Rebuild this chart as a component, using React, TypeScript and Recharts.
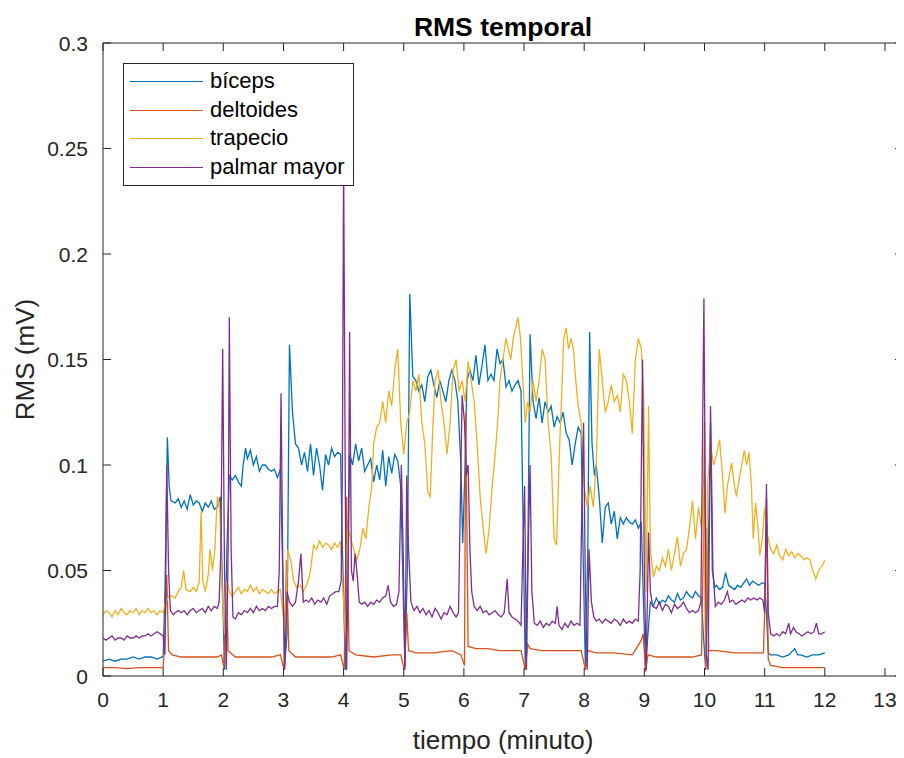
import React from "react";
import { LineChart, Line, XAxis, YAxis, Legend, Label } from "recharts";

const FONT = '"Liberation Sans", Arial, Helvetica, sans-serif';
const INK = "#262626";

const xTicks = [0, 1, 2, 3, 4, 5, 6, 7, 8, 9, 10, 11, 12, 13];
const yTicks = [0, 0.05, 0.1, 0.15, 0.2, 0.25, 0.3];
const yTickLabels = ["0", "0.05", "0.1", "0.15", "0.2", "0.25", "0.3"];

const seriesNames = ["bíceps", "deltoides", "trapecio", "palmar mayor"];
const seriesColors = ["#0072BD", "#D95319", "#EDB120", "#7E2F8E"];

const biceps: [number, number][] = [
  [0, 0.007], [0.1, 0.008], [0.2, 0.007], [0.3, 0.008], [0.4, 0.008], [0.5, 0.009], [0.6, 0.008], [0.7, 0.009], [0.8, 0.009], [0.9, 0.008], [0.98, 0.009], [1.0, 0.009],
  [1.03, 0.04], [1.07, 0.113], [1.1, 0.09], [1.13, 0.083], [1.2, 0.082], [1.25, 0.084], [1.3, 0.08], [1.35, 0.083], [1.4, 0.079], [1.45, 0.086], [1.5, 0.081], [1.55, 0.083], [1.6, 0.082], [1.65, 0.078], [1.7, 0.082], [1.75, 0.08], [1.8, 0.083], [1.85, 0.079], [1.9, 0.08], [1.95, 0.085],
  [1.98, 0.05], [2.02, 0.003], [2.06, 0.06], [2.1, 0.095], [2.15, 0.093], [2.2, 0.095], [2.25, 0.092], [2.3, 0.09], [2.33, 0.1], [2.37, 0.108], [2.4, 0.103], [2.45, 0.107], [2.5, 0.1], [2.55, 0.104], [2.6, 0.097], [2.65, 0.1], [2.7, 0.1], [2.75, 0.098], [2.8, 0.097], [2.85, 0.098], [2.9, 0.094], [2.95, 0.098],
  [2.98, 0.06], [3.02, 0.005], [3.06, 0.02], [3.1, 0.157], [3.15, 0.125], [3.2, 0.11], [3.25, 0.108], [3.3, 0.1], [3.35, 0.106], [3.4, 0.097], [3.45, 0.11], [3.5, 0.095], [3.55, 0.108], [3.6, 0.1], [3.65, 0.088], [3.7, 0.105], [3.75, 0.1], [3.8, 0.108], [3.85, 0.104], [3.9, 0.106], [3.95, 0.105],
  [3.98, 0.06], [4.03, 0.003], [4.07, 0.05], [4.1, 0.105], [4.15, 0.1], [4.2, 0.11], [4.25, 0.102], [4.3, 0.108], [4.35, 0.097], [4.4, 0.1], [4.45, 0.103], [4.5, 0.092], [4.55, 0.1], [4.6, 0.093], [4.65, 0.107], [4.7, 0.09], [4.75, 0.104], [4.8, 0.096], [4.85, 0.105], [4.9, 0.102], [4.95, 0.09],
  [4.99, 0.04], [5.02, 0.005], [5.06, 0.05], [5.1, 0.181], [5.15, 0.142], [5.2, 0.14], [5.25, 0.135], [5.3, 0.138], [5.35, 0.13], [5.4, 0.142], [5.45, 0.145], [5.5, 0.138], [5.55, 0.132], [5.6, 0.14], [5.65, 0.135], [5.7, 0.13], [5.75, 0.14], [5.8, 0.145], [5.85, 0.14], [5.9, 0.13], [5.95, 0.1],
  [5.98, 0.063], [6.02, 0.1], [6.05, 0.14], [6.1, 0.145], [6.15, 0.14], [6.2, 0.152], [6.25, 0.138], [6.3, 0.147], [6.35, 0.157], [6.4, 0.14], [6.45, 0.143], [6.5, 0.14], [6.55, 0.155], [6.6, 0.148], [6.65, 0.15], [6.7, 0.137], [6.75, 0.14], [6.8, 0.135], [6.85, 0.138], [6.9, 0.14], [6.95, 0.135],
  [6.98, 0.08], [7.02, 0.003], [7.06, 0.05], [7.1, 0.162], [7.15, 0.13], [7.2, 0.122], [7.25, 0.132], [7.3, 0.12], [7.35, 0.13], [7.4, 0.125], [7.45, 0.128], [7.5, 0.118], [7.55, 0.123], [7.6, 0.12], [7.65, 0.125], [7.7, 0.115], [7.75, 0.112], [7.8, 0.1], [7.85, 0.11], [7.9, 0.118], [7.95, 0.115],
  [7.98, 0.06], [8.02, 0.003], [8.06, 0.06], [8.09, 0.163], [8.13, 0.11], [8.17, 0.095], [8.2, 0.1], [8.25, 0.085], [8.3, 0.063], [8.35, 0.08], [8.4, 0.082], [8.45, 0.072], [8.5, 0.078], [8.55, 0.065], [8.6, 0.075], [8.65, 0.072], [8.7, 0.075], [8.75, 0.073], [8.8, 0.072], [8.85, 0.074], [8.9, 0.07], [8.95, 0.073],
  [8.98, 0.04], [9.02, 0.003], [9.06, 0.02], [9.1, 0.035], [9.15, 0.033], [9.2, 0.037], [9.25, 0.034], [9.3, 0.036], [9.35, 0.035], [9.4, 0.038], [9.45, 0.036], [9.5, 0.035], [9.55, 0.039], [9.6, 0.036], [9.65, 0.037], [9.7, 0.04], [9.75, 0.038], [9.8, 0.037], [9.85, 0.04], [9.9, 0.038], [9.95, 0.037],
  [9.98, 0.02], [10.02, 0.003], [10.06, 0.05], [10.1, 0.12], [10.13, 0.05], [10.17, 0.042], [10.2, 0.043], [10.25, 0.041], [10.3, 0.042], [10.35, 0.049], [10.4, 0.043], [10.45, 0.042], [10.5, 0.041], [10.55, 0.043], [10.6, 0.042], [10.65, 0.044], [10.7, 0.046], [10.75, 0.043], [10.8, 0.045], [10.85, 0.044], [10.9, 0.043], [10.95, 0.044], [11.0, 0.044],
  [11.03, 0.03], [11.06, 0.011], [11.1, 0.01], [11.2, 0.01], [11.3, 0.009], [11.4, 0.01], [11.5, 0.013], [11.55, 0.01], [11.6, 0.01], [11.7, 0.009], [11.8, 0.01], [11.9, 0.01], [12.0, 0.011],
];

const deltoides: [number, number][] = [
  [0, 0.004], [0.2, 0.004], [0.4, 0.0035], [0.6, 0.004], [0.8, 0.004], [1.0, 0.004], [1.03, 0.02], [1.06, 0.048], [1.09, 0.012], [1.15, 0.01], [1.3, 0.009], [1.5, 0.009], [1.7, 0.009], [1.9, 0.009],
  [1.97, 0.01], [2.01, 0.004], [2.05, 0.044], [2.08, 0.012], [2.2, 0.009], [2.5, 0.009], [2.8, 0.009], [2.95, 0.01],
  [3.01, 0.003], [3.05, 0.055], [3.09, 0.012], [3.2, 0.009], [3.5, 0.009], [3.8, 0.009], [3.95, 0.01],
  [4.01, 0.003], [4.05, 0.085], [4.09, 0.012], [4.2, 0.01], [4.5, 0.009], [4.8, 0.01], [4.95, 0.01],
  [5.01, 0.003], [5.05, 0.03], [5.08, 0.012], [5.2, 0.011], [5.5, 0.011], [5.8, 0.012], [5.95, 0.01],
  [6.01, 0.005], [6.03, 0.125], [6.07, 0.014], [6.2, 0.013], [6.4, 0.013], [6.6, 0.012], [6.8, 0.012], [6.95, 0.012],
  [7.02, 0.003], [7.06, 0.015], [7.1, 0.013], [7.3, 0.012], [7.5, 0.012], [7.8, 0.012], [7.95, 0.012],
  [8.02, 0.003], [8.06, 0.012], [8.2, 0.011], [8.5, 0.011], [8.8, 0.01], [8.95, 0.017], [8.98, 0.02],
  [9.02, 0.002], [9.06, 0.01], [9.2, 0.009], [9.5, 0.009], [9.8, 0.009], [9.95, 0.01], [9.98, 0.06], [10.0, 0.12],
  [10.02, 0.003], [10.04, 0.07], [10.07, 0.012], [10.2, 0.012], [10.5, 0.011], [10.8, 0.011], [10.98, 0.011],
  [11.01, 0.04], [11.03, 0.085], [11.06, 0.008], [11.1, 0.005], [11.3, 0.004], [11.5, 0.004], [11.8, 0.004], [12.0, 0.004],
];

const trapecio: [number, number][] = [
  [0, 0.029], [0.05, 0.031], [0.1, 0.03], [0.15, 0.028], [0.2, 0.031], [0.25, 0.029], [0.3, 0.032], [0.35, 0.03], [0.4, 0.029], [0.45, 0.031], [0.5, 0.03], [0.55, 0.032], [0.6, 0.029], [0.65, 0.031], [0.7, 0.03], [0.75, 0.032], [0.8, 0.03], [0.85, 0.031], [0.9, 0.029], [0.95, 0.031], [1.0, 0.03],
  [1.04, 0.035], [1.1, 0.038], [1.15, 0.038], [1.2, 0.037], [1.25, 0.04], [1.3, 0.042], [1.34, 0.05], [1.38, 0.041], [1.45, 0.04], [1.5, 0.042], [1.55, 0.04], [1.6, 0.045], [1.63, 0.078], [1.66, 0.045], [1.7, 0.04], [1.75, 0.048], [1.78, 0.06], [1.82, 0.05], [1.86, 0.06], [1.9, 0.085], [1.94, 0.08],
  [1.98, 0.04], [2.02, 0.02], [2.06, 0.045], [2.1, 0.04], [2.15, 0.038], [2.2, 0.04], [2.25, 0.042], [2.3, 0.039], [2.35, 0.041], [2.4, 0.04], [2.45, 0.043], [2.5, 0.04], [2.55, 0.042], [2.6, 0.039], [2.65, 0.041], [2.7, 0.04], [2.75, 0.039], [2.8, 0.041], [2.85, 0.039], [2.9, 0.04], [2.95, 0.041],
  [2.99, 0.03], [3.03, 0.02], [3.07, 0.06], [3.12, 0.055], [3.17, 0.045], [3.22, 0.042], [3.28, 0.043], [3.33, 0.04], [3.4, 0.044], [3.45, 0.05], [3.5, 0.062], [3.55, 0.06], [3.6, 0.064], [3.65, 0.061], [3.7, 0.063], [3.75, 0.062], [3.8, 0.06], [3.85, 0.063], [3.9, 0.061], [3.95, 0.064],
  [3.99, 0.04], [4.03, 0.02], [4.07, 0.07], [4.12, 0.065], [4.17, 0.06], [4.22, 0.055], [4.27, 0.06], [4.32, 0.07], [4.37, 0.065], [4.42, 0.08], [4.47, 0.09], [4.5, 0.11], [4.55, 0.118], [4.6, 0.12], [4.65, 0.13], [4.7, 0.12], [4.75, 0.135], [4.8, 0.128], [4.85, 0.145], [4.9, 0.155], [4.95, 0.12],
  [5.0, 0.105], [5.05, 0.12], [5.1, 0.125], [5.15, 0.14], [5.2, 0.135], [5.25, 0.143], [5.3, 0.12], [5.35, 0.11], [5.4, 0.087], [5.44, 0.085], [5.48, 0.115], [5.52, 0.14], [5.57, 0.145], [5.62, 0.13], [5.67, 0.12], [5.72, 0.105], [5.77, 0.12], [5.82, 0.145], [5.87, 0.15], [5.92, 0.135], [5.97, 0.14],
  [6.02, 0.13], [6.07, 0.149], [6.12, 0.14], [6.17, 0.13], [6.22, 0.11], [6.27, 0.085], [6.32, 0.07], [6.37, 0.058], [6.42, 0.07], [6.47, 0.09], [6.52, 0.105], [6.56, 0.12], [6.6, 0.14], [6.65, 0.15], [6.7, 0.16], [6.74, 0.155], [6.78, 0.15], [6.82, 0.16], [6.86, 0.165], [6.9, 0.17], [6.94, 0.16], [6.98, 0.14],
  [7.02, 0.12], [7.06, 0.13], [7.1, 0.125], [7.15, 0.14], [7.2, 0.13], [7.25, 0.14], [7.3, 0.155], [7.35, 0.15], [7.4, 0.12], [7.45, 0.105], [7.5, 0.065], [7.54, 0.062], [7.58, 0.1], [7.62, 0.13], [7.66, 0.16], [7.7, 0.165], [7.74, 0.155], [7.78, 0.16], [7.82, 0.155], [7.86, 0.14], [7.9, 0.128], [7.95, 0.12],
  [8.0, 0.09], [8.05, 0.08], [8.1, 0.09], [8.15, 0.08], [8.2, 0.1], [8.25, 0.155], [8.3, 0.14], [8.35, 0.125], [8.4, 0.13], [8.45, 0.138], [8.5, 0.13], [8.55, 0.133], [8.6, 0.125], [8.65, 0.143], [8.7, 0.14], [8.75, 0.13], [8.8, 0.115], [8.85, 0.15], [8.9, 0.16], [8.95, 0.155], [8.99, 0.13],
  [9.03, 0.04], [9.07, 0.128], [9.1, 0.06], [9.15, 0.047], [9.2, 0.052], [9.25, 0.05], [9.3, 0.056], [9.35, 0.052], [9.4, 0.06], [9.45, 0.05], [9.5, 0.058], [9.55, 0.066], [9.6, 0.052], [9.65, 0.058], [9.7, 0.06], [9.75, 0.07], [9.8, 0.083], [9.85, 0.065], [9.9, 0.08], [9.95, 0.07], [9.98, 0.09],
  [10.02, 0.01], [10.05, 0.09], [10.1, 0.11], [10.15, 0.1], [10.2, 0.105], [10.25, 0.112], [10.3, 0.095], [10.34, 0.077], [10.38, 0.09], [10.45, 0.101], [10.5, 0.09], [10.53, 0.085], [10.58, 0.094], [10.62, 0.1], [10.66, 0.107], [10.7, 0.1], [10.74, 0.106], [10.78, 0.09], [10.81, 0.065], [10.85, 0.082], [10.89, 0.07], [10.92, 0.057], [10.96, 0.065], [11.0, 0.08],
  [11.03, 0.07], [11.06, 0.065], [11.1, 0.06], [11.15, 0.058], [11.2, 0.062], [11.25, 0.057], [11.3, 0.055], [11.35, 0.06], [11.4, 0.057], [11.45, 0.059], [11.5, 0.056], [11.55, 0.058], [11.6, 0.057], [11.65, 0.055], [11.7, 0.056], [11.75, 0.055], [11.8, 0.05], [11.85, 0.046], [11.9, 0.05], [11.95, 0.052], [12.0, 0.055],
];

const palmarMayor: [number, number][] = [
  [0, 0.018], [0.05, 0.017], [0.1, 0.018], [0.15, 0.019], [0.2, 0.017], [0.25, 0.018], [0.3, 0.018], [0.35, 0.017], [0.4, 0.019], [0.45, 0.018], [0.5, 0.018], [0.55, 0.019], [0.6, 0.018], [0.65, 0.019], [0.7, 0.019], [0.75, 0.02], [0.8, 0.019], [0.85, 0.02], [0.9, 0.021], [0.95, 0.02], [1.0, 0.019],
  [1.03, 0.01], [1.06, 0.1], [1.09, 0.05], [1.12, 0.031], [1.17, 0.029], [1.2, 0.03], [1.25, 0.031], [1.3, 0.03], [1.35, 0.031], [1.4, 0.029], [1.45, 0.031], [1.5, 0.032], [1.55, 0.03], [1.6, 0.031], [1.65, 0.032], [1.7, 0.03], [1.75, 0.033], [1.8, 0.031], [1.85, 0.033], [1.9, 0.032],
  [1.93, 0.035], [1.96, 0.06], [1.99, 0.155], [2.02, 0.05], [2.05, 0.003], [2.08, 0.06], [2.1, 0.17], [2.13, 0.06], [2.16, 0.028], [2.2, 0.027], [2.25, 0.03], [2.3, 0.029], [2.35, 0.031], [2.4, 0.03], [2.45, 0.032], [2.5, 0.03], [2.55, 0.033], [2.6, 0.031], [2.65, 0.032], [2.7, 0.031], [2.75, 0.033], [2.8, 0.032], [2.85, 0.033], [2.9, 0.033],
  [2.93, 0.05], [2.96, 0.134], [2.99, 0.05], [3.02, 0.003], [3.06, 0.04], [3.1, 0.035], [3.15, 0.033], [3.2, 0.035], [3.25, 0.045], [3.29, 0.058], [3.33, 0.035], [3.38, 0.036], [3.42, 0.035], [3.47, 0.037], [3.52, 0.034], [3.57, 0.036], [3.62, 0.035], [3.67, 0.037], [3.72, 0.034], [3.77, 0.038], [3.82, 0.039], [3.87, 0.04], [3.92, 0.04],
  [3.96, 0.045], [3.98, 0.1], [4.0, 0.245], [4.03, 0.08], [4.05, 0.003], [4.08, 0.06], [4.1, 0.163], [4.13, 0.05], [4.16, 0.045], [4.19, 0.058], [4.22, 0.05], [4.26, 0.035], [4.3, 0.034], [4.35, 0.035], [4.4, 0.033], [4.45, 0.035], [4.5, 0.034], [4.55, 0.036], [4.6, 0.035], [4.65, 0.037], [4.7, 0.038], [4.74, 0.043], [4.78, 0.035], [4.83, 0.033], [4.88, 0.034],
  [4.92, 0.04], [4.96, 0.1], [4.99, 0.06], [5.02, 0.003], [5.05, 0.095], [5.08, 0.06], [5.12, 0.035], [5.17, 0.031], [5.22, 0.033], [5.27, 0.03], [5.32, 0.032], [5.37, 0.029], [5.42, 0.031], [5.47, 0.028], [5.52, 0.032], [5.57, 0.03], [5.62, 0.027], [5.67, 0.03], [5.72, 0.029], [5.77, 0.033], [5.82, 0.03], [5.87, 0.028], [5.91, 0.03],
  [5.94, 0.08], [5.97, 0.133], [6.01, 0.12], [6.04, 0.095], [6.07, 0.1], [6.1, 0.06], [6.13, 0.04], [6.17, 0.033], [6.22, 0.031], [6.27, 0.033], [6.32, 0.03], [6.37, 0.031], [6.42, 0.029], [6.47, 0.03], [6.52, 0.031], [6.57, 0.029], [6.62, 0.028], [6.67, 0.03], [6.72, 0.046], [6.75, 0.03], [6.8, 0.028], [6.85, 0.027], [6.9, 0.026], [6.95, 0.024],
  [6.98, 0.06], [7.01, 0.09], [7.04, 0.003], [7.07, 0.06], [7.1, 0.1], [7.13, 0.04], [7.17, 0.025], [7.22, 0.024], [7.27, 0.026], [7.32, 0.023], [7.37, 0.025], [7.42, 0.024], [7.47, 0.026], [7.52, 0.025], [7.55, 0.033], [7.58, 0.024], [7.63, 0.022], [7.68, 0.025], [7.73, 0.023], [7.78, 0.026], [7.83, 0.024], [7.88, 0.025], [7.93, 0.024],
  [7.96, 0.08], [7.99, 0.12], [8.02, 0.04], [8.05, 0.003], [8.08, 0.06], [8.12, 0.035], [8.16, 0.028], [8.2, 0.026], [8.25, 0.027], [8.3, 0.025], [8.35, 0.027], [8.4, 0.026], [8.45, 0.025], [8.5, 0.027], [8.55, 0.026], [8.6, 0.024], [8.65, 0.027], [8.7, 0.025], [8.75, 0.026], [8.8, 0.025], [8.85, 0.027], [8.9, 0.026],
  [8.93, 0.05], [8.97, 0.15], [9.0, 0.05], [9.03, 0.003], [9.07, 0.068], [9.1, 0.04], [9.14, 0.033], [9.2, 0.032], [9.25, 0.035], [9.3, 0.031], [9.35, 0.034], [9.4, 0.033], [9.45, 0.03], [9.5, 0.034], [9.55, 0.032], [9.6, 0.033], [9.65, 0.035], [9.7, 0.032], [9.75, 0.03], [9.8, 0.031], [9.85, 0.03], [9.9, 0.031],
  [9.94, 0.035], [9.99, 0.179], [10.03, 0.01], [10.06, 0.003], [10.1, 0.128], [10.14, 0.05], [10.18, 0.033], [10.23, 0.035], [10.28, 0.034], [10.33, 0.036], [10.38, 0.04], [10.42, 0.035], [10.47, 0.036], [10.52, 0.034], [10.57, 0.035], [10.62, 0.036], [10.67, 0.035], [10.72, 0.037], [10.77, 0.036], [10.82, 0.037], [10.87, 0.036], [10.92, 0.037], [10.97, 0.036],
  [11.0, 0.03], [11.03, 0.091], [11.06, 0.03], [11.1, 0.02], [11.15, 0.019], [11.2, 0.02], [11.25, 0.019], [11.3, 0.021], [11.35, 0.02], [11.4, 0.025], [11.43, 0.02], [11.48, 0.023], [11.52, 0.021], [11.57, 0.02], [11.62, 0.019], [11.67, 0.02], [11.72, 0.021], [11.77, 0.02], [11.82, 0.021], [11.86, 0.025], [11.9, 0.02], [11.95, 0.02], [12.0, 0.021],
];

const toRows = (pairs: [number, number][]) => pairs.map(([t, v]) => ({ t, v }));
const allSeries = [biceps, deltoides, trapecio, palmarMayor].map(toRows);

const W = 896;
const H = 750;
const TICK_LEN = 8;

const BottomTick = (p: any) => {
  const { x, y, payload } = p;
  return (
    <g>
      <line x1={x} x2={x} y1={y} y2={y - TICK_LEN} stroke={INK} strokeWidth={1} />
      <text x={x} y={y + 31} textAnchor="middle" fill={INK} fontSize={21} fontFamily={FONT}>
        {payload.value}
      </text>
    </g>
  );
};
const TopTick = (p: any) => (
  <line x1={p.x} x2={p.x} y1={p.y} y2={p.y + TICK_LEN} stroke={INK} strokeWidth={1} />
);
const LeftTick = (p: any) => {
  const { x, y, payload } = p;
  return (
    <g>
      <line x1={x} x2={x + TICK_LEN} y1={y} y2={y} stroke={INK} strokeWidth={1} />
      <text x={x - 15} y={y} dy="0.36em" textAnchor="end" fill={INK} fontSize={21} fontFamily={FONT}>
        {yTickLabels[yTicks.indexOf(payload.value)] ?? String(payload.value)}
      </text>
    </g>
  );
};
const RightTick = (p: any) => (
  <line x1={p.x} x2={p.x - TICK_LEN} y1={p.y} y2={p.y} stroke={INK} strokeWidth={1} />
);

const LegendBox = () => (
  <div
    style={{
      boxSizing: "border-box",
      width: 231,
      height: 123,
      border: `1px solid ${INK}`,
      background: "#fff",
      position: "relative",
      fontFamily: FONT,
      fontSize: 22,
      color: "#000",
    }}
  >
    {seriesNames.map((name, i) => {
      const cy = Math.round(17 + i * 28.5);
      return (
        <React.Fragment key={name}>
          <div style={{ position: "absolute", left: 6, top: cy, width: 73, height: 1, background: seriesColors[i] }} />
          <div style={{ position: "absolute", left: 86, top: cy - 13, lineHeight: "26px", whiteSpace: "nowrap" }}>{name}</div>
        </React.Fragment>
      );
    })}
  </div>
);

export default function App() {
  return (
    <div style={{ width: W, height: H, background: "#fff" }}>
      <LineChart width={W} height={H} margin={{ top: 34, right: 0, bottom: 52, left: 35 }}>
        <XAxis
          dataKey="t"
          type="number"
          domain={[0, 13.3]}
          ticks={xTicks}
          allowDataOverflow
          height={30}
          tickSize={0}
          tickMargin={0}
          tickLine={false}
          axisLine={{ stroke: INK, strokeWidth: 1 }}
          tick={<BottomTick />}
          interval={0}
        >
          <Label
            content={(props: any) => {
              const vb = props.viewBox;
              return (
                <text x={vb.x + vb.width / 2} y={vb.y + 73} textAnchor="middle" fill={INK} fontSize={26} fontFamily={FONT}>
                  tiempo (minuto)
                </text>
              );
            }}
          />
        </XAxis>
        <XAxis
          xAxisId="top"
          orientation="top"
          dataKey="t"
          type="number"
          domain={[0, 13.3]}
          ticks={xTicks}
          allowDataOverflow
          height={1}
          tickSize={0}
          tickMargin={0}
          tickLine={false}
          axisLine={{ stroke: INK, strokeWidth: 1 }}
          tick={<TopTick />}
          interval={0}
        >
          <Label
            content={(props: any) => {
              const vb = props.viewBox;
              return (
                <text x={vb.x + vb.width / 2} y={vb.y - 6} textAnchor="middle" fill="#000" fontSize={26.5} fontWeight="bold" fontFamily={FONT}>
                  RMS temporal
                </text>
              );
            }}
          />
        </XAxis>
        <YAxis
          type="number"
          domain={[0, 0.3]}
          ticks={yTicks}
          allowDataOverflow
          width={60}
          tickSize={0}
          tickMargin={0}
          tickLine={false}
          axisLine={{ stroke: INK, strokeWidth: 1 }}
          tick={<LeftTick />}
          interval={0}
        >
          <Label
            content={(props: any) => {
              const vb = props.viewBox;
              const cx = vb.x - 18;
              const cy = vb.y + vb.height / 2;
              return (
                <text x={cx} y={cy} dy="0.36em" transform={`rotate(-90, ${cx}, ${cy})`} textAnchor="middle" fill={INK} fontSize={26} fontFamily={FONT}>
                  RMS (mV)
                </text>
              );
            }}
          />
        </YAxis>
        <YAxis
          yAxisId="right"
          orientation="right"
          type="number"
          domain={[0, 0.3]}
          ticks={yTicks}
          allowDataOverflow
          width={1}
          tickSize={0}
          tickMargin={0}
          tickLine={false}
          axisLine={{ stroke: INK, strokeWidth: 1 }}
          tick={<RightTick />}
          interval={0}
        />
        {allSeries.map((rows, i) => (
          <Line
            key={seriesNames[i]}
            data={rows}
            dataKey="v"
            name={seriesNames[i]}
            type="linear"
            stroke={seriesColors[i]}
            strokeWidth={1.3}
            dot={false}
            activeDot={false}
            isAnimationActive={false}
          />
        ))}
        <Legend
          layout="vertical"
          align="center"
          verticalAlign="middle"
          wrapperStyle={{ left: 115, top: 55, width: 231, height: 123 }}
          content={() => <LegendBox />}
        />
      </LineChart>
    </div>
  );
}
